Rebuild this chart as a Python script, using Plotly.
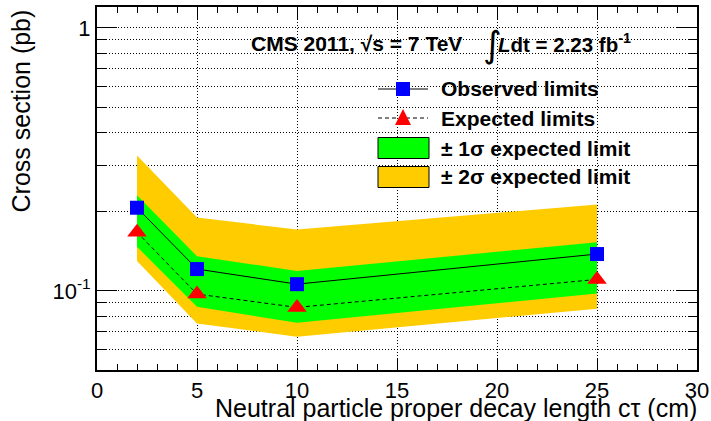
import math
import plotly.graph_objects as go

# ---------------- data ----------------
ctau = [2, 5, 10, 25]
observed = [0.207, 0.121, 0.106, 0.138]
expected = [0.167, 0.0972, 0.0865, 0.1105]
one_sigma_low = [0.147, 0.087, 0.0756, 0.0977]
one_sigma_high = [0.231, 0.1354, 0.119, 0.153]
two_sigma_low = [0.1297, 0.0752, 0.0669, 0.0855]
two_sigma_high = [0.327, 0.19, 0.171, 0.213]

x_ticks = [0, 5, 10, 15, 20, 25, 30]
x_minor = [v for v in range(1, 30) if v % 5 != 0]
y_ticks = [0.1, 1]
y_ticktext = ["10<sup>-1</sup>", "1"]
y_minor = [0.06, 0.07, 0.08, 0.09, 0.2, 0.3, 0.4, 0.5, 0.6, 0.7, 0.8, 0.9]

legend_labels = ["Observed limits", "Expected limits",
                 "± 1σ expected limit", "± 2σ expected limit"]

GREEN = "#00ff00"
YELLOW = "#ffcc00"
BLUE = "#0000ff"
RED = "#ff0000"
FONT = "Liberation Sans"

W, H = 711, 421
L, R, T, B = 97, 14, 7, 51
PW, PH = W - L - R, H - T - B


def px(xp):
    return (xp - L) / PW


def py(yp):
    return (H - B - yp) / PH


fig = go.Figure()

# bands
fig.add_trace(go.Scatter(x=ctau, y=two_sigma_low, mode="lines", line=dict(width=0),
                         showlegend=False, hoverinfo="skip"))
fig.add_trace(go.Scatter(x=ctau, y=two_sigma_high, mode="lines", line=dict(width=0),
                         fill="tonexty", fillcolor=YELLOW, showlegend=False, hoverinfo="skip"))
fig.add_trace(go.Scatter(x=ctau, y=one_sigma_low, mode="lines", line=dict(width=0),
                         showlegend=False, hoverinfo="skip"))
fig.add_trace(go.Scatter(x=ctau, y=one_sigma_high, mode="lines", line=dict(width=0),
                         fill="tonexty", fillcolor=GREEN, showlegend=False, hoverinfo="skip"))
# expected
fig.add_trace(go.Scatter(x=ctau, y=expected, mode="lines+markers",
                         line=dict(color="black", width=1, dash="4px,3px"),
                         marker=dict(symbol="triangle-up", size=17, color=RED),
                         showlegend=False, hoverinfo="skip"))
# observed
fig.add_trace(go.Scatter(x=ctau, y=observed, mode="lines+markers",
                         line=dict(color="black", width=1),
                         marker=dict(symbol="square", size=14, color=BLUE),
                         showlegend=False, hoverinfo="skip"))

shapes = []
annotations = []

# legend box (white, covers grid)
shapes.append(dict(type="rect", xref="paper", yref="paper",
                   x0=px(367), x1=px(653), y0=py(192), y1=py(70),
                   fillcolor="white", line=dict(width=0), layer="between"))
rows = [89, 118, 148, 177]
sx0, sx1, sxc = 378, 428, 403
# observed glyph
shapes.append(dict(type="line", xref="paper", yref="paper", x0=px(sx0), x1=px(sx1),
                   y0=py(rows[0]), y1=py(rows[0]), line=dict(color="black", width=1)))
shapes.append(dict(type="rect", xref="paper", yref="paper", x0=px(sxc - 7), x1=px(sxc + 7),
                   y0=py(rows[0] + 7), y1=py(rows[0] - 7), fillcolor=BLUE, line=dict(width=0)))
# expected glyph
shapes.append(dict(type="line", xref="paper", yref="paper", x0=px(sx0), x1=px(sx1),
                   y0=py(rows[1]), y1=py(rows[1]), line=dict(color="black", width=1, dash="4px,3px")))
shapes.append(dict(type="path", xref="paper", yref="paper",
                   path="M %f %f L %f %f L %f %f Z" % (px(sxc), py(rows[1] - 9),
                                                       px(sxc - 8), py(rows[1] + 7),
                                                       px(sxc + 8), py(rows[1] + 7)),
                   fillcolor=RED, line=dict(width=0)))
# band glyphs
for r, col in [(rows[2], GREEN), (rows[3], YELLOW)]:
    shapes.append(dict(type="rect", xref="paper", yref="paper", x0=px(378), x1=px(429),
                       y0=py(r + 10.5), y1=py(r - 10.5), fillcolor=col,
                       line=dict(color="black", width=1)))
for r, lab in zip(rows, legend_labels):
    annotations.append(dict(xref="paper", yref="paper", x=px(439), y=py(r), xanchor="left",
                            yanchor="middle", showarrow=False, text="<b>%s</b>" % lab,
                            font=dict(family=FONT, size=21, color="black")))

# header text
annotations.append(dict(xref="paper", yref="paper", x=px(249), y=py(43), xanchor="left",
                        yanchor="middle", showarrow=False,
                        text="<b>CMS 2011, √s = 7 TeV</b>",
                        font=dict(family=FONT, size=21, color="black")))
annotations.append(dict(xref="paper", yref="paper", x=px(481), y=py(45), xanchor="left",
                        yanchor="middle", showarrow=False, text="∫",
                        font=dict(family="DejaVu Sans", size=36, color="black")))
annotations.append(dict(xref="paper", yref="paper", x=px(496), y=py(43), xanchor="left",
                        yanchor="middle", showarrow=False,
                        text="<b><i>L</i>dt = 2.23 fb<sup>-1</sup></b>",
                        font=dict(family=FONT, size=20.5, color="black")))

# axis titles
annotations.append(dict(xref="paper", yref="paper", x=px(699), y=py(408), xanchor="right",
                        yanchor="middle", showarrow=False,
                        text="Neutral particle proper decay length cτ (cm)",
                        font=dict(family=FONT, size=25, color="black")))
annotations.append(dict(xref="paper", yref="paper", x=px(20), y=py(8), xanchor="center",
                        yanchor="top", showarrow=False, textangle=-90,
                        text="Cross section (pb)",
                        font=dict(family=FONT, size=25, color="black")))

grid_dash = "1px,2px"
fig.update_layout(
    width=W, height=H, autosize=False,
    margin=dict(l=L, r=R, t=T, b=B, pad=0, autoexpand=False),
    paper_bgcolor="white", plot_bgcolor="white",
    font=dict(family=FONT, color="black"),
    shapes=shapes, annotations=annotations,
    xaxis=dict(range=[0, 30], tickmode="array", tickvals=x_ticks, automargin=False,
               ticks="inside", ticklen=12, tickwidth=1, tickcolor="black",
               showline=True, linewidth=2, linecolor="black", mirror="ticks",
               showgrid=True, gridcolor="black", gridwidth=1, griddash=grid_dash,
               zeroline=False, tickfont=dict(family=FONT, size=22, color="black"),
               minor=dict(tickmode="array", tickvals=x_minor, ticks="inside", ticklen=6,
                          tickwidth=1, tickcolor="black", showgrid=False)),
    yaxis=dict(type="log", range=[math.log10(0.05), math.log10(1.2)], automargin=False,
               tickmode="array", tickvals=y_ticks, ticktext=y_ticktext,
               ticks="inside", ticklen=20, tickwidth=1, tickcolor="black",
               showline=True, linewidth=2, linecolor="black", mirror="ticks",
               showgrid=True, gridcolor="black", gridwidth=1, griddash=grid_dash,
               zeroline=False, tickfont=dict(family=FONT, size=22, color="black"),
               minor=dict(tickmode="array", tickvals=y_minor, ticks="inside", ticklen=9,
                          tickwidth=1, tickcolor="black", showgrid=True,
                          gridcolor="black", gridwidth=1, griddash=grid_dash)),
)

fig.write_html("out.html", config={"displayModeBar": False, "responsive": False},
               post_script="document.body.style.margin='0';document.body.style.padding='0';document.body.style.overflow='hidden';")
